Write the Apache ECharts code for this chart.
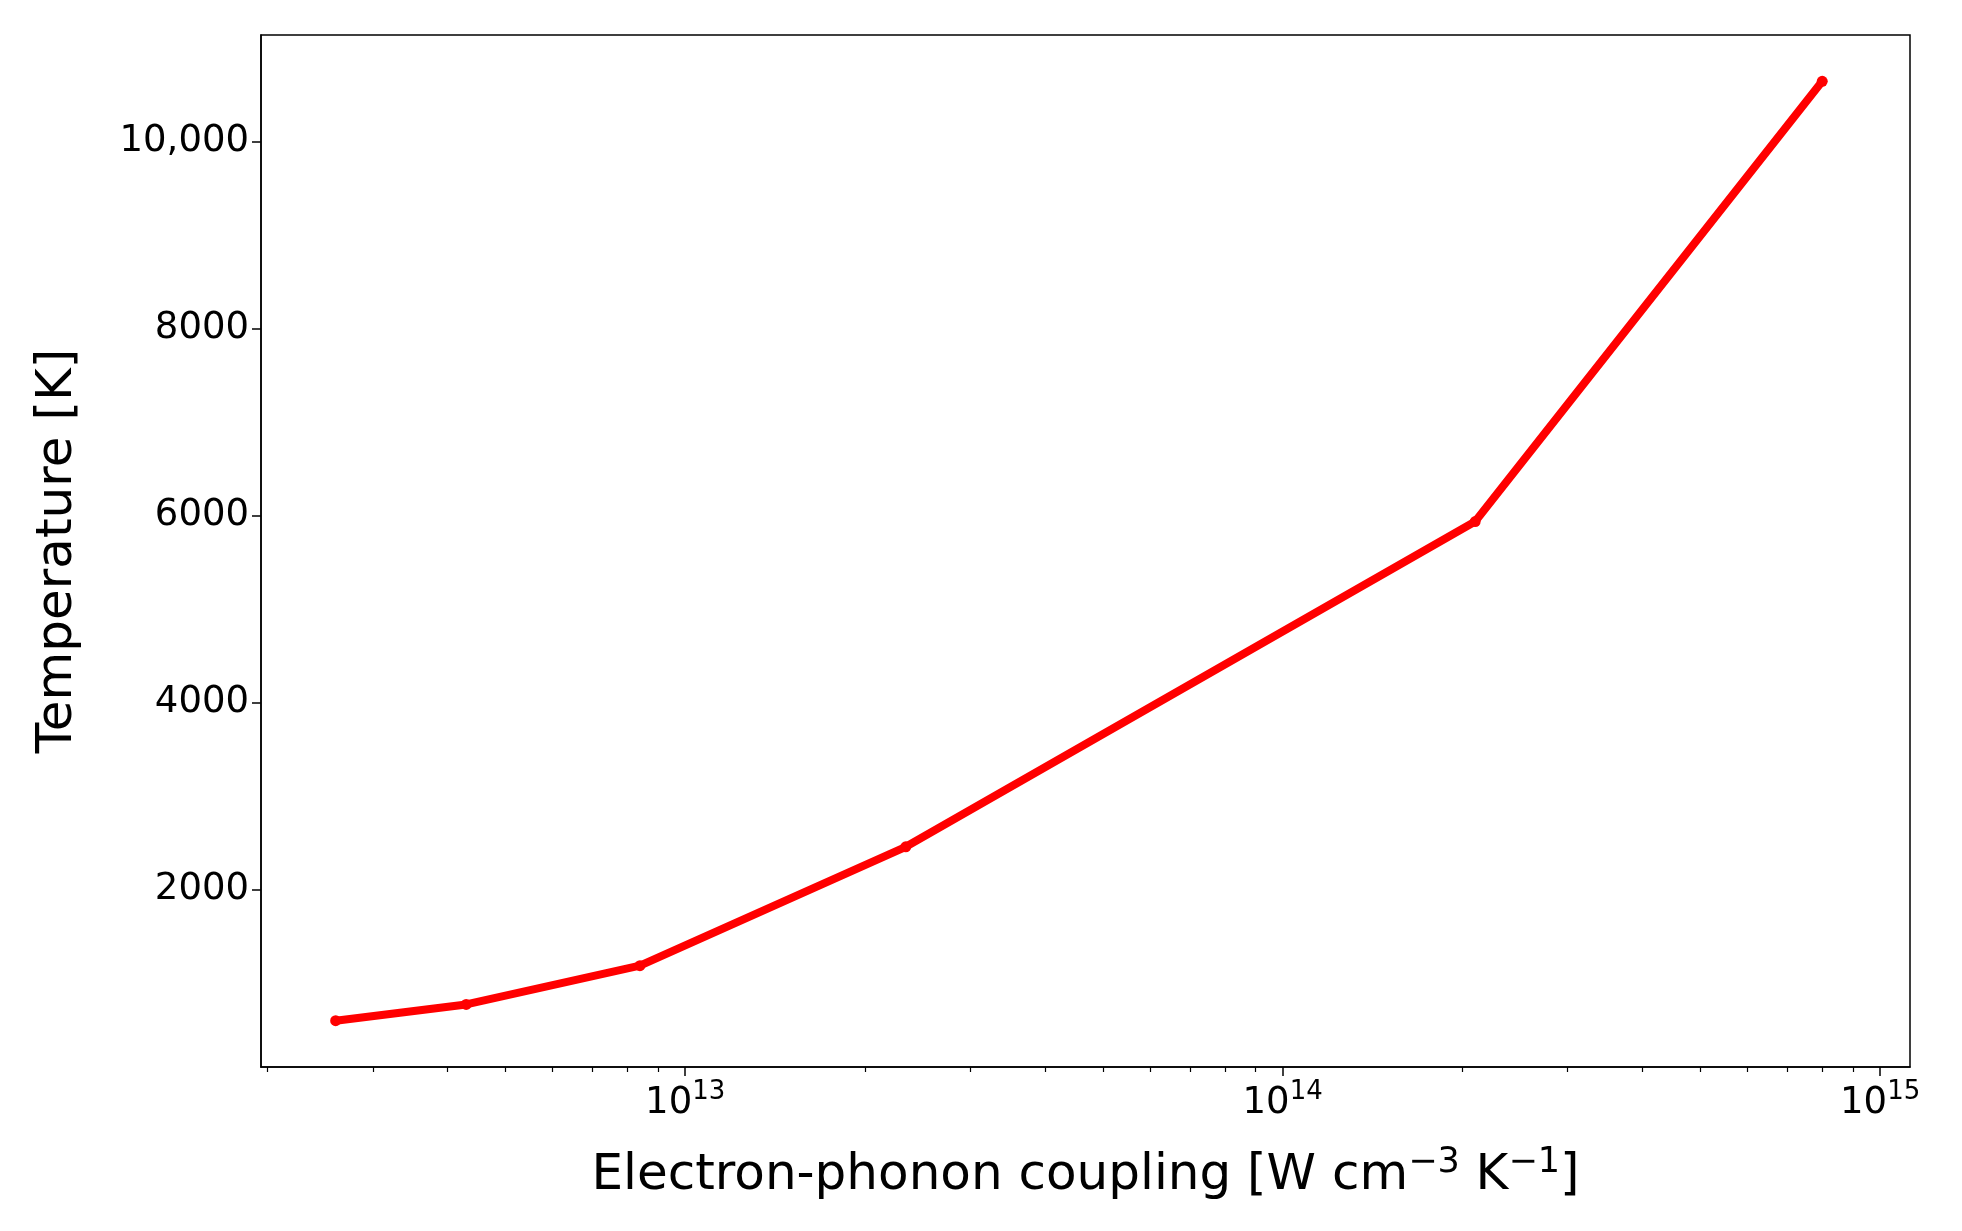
<!DOCTYPE html>
<html>
<head>
<meta charset="utf-8">
<script src="https://cdn.jsdelivr.net/npm/echarts@6/dist/echarts.min.js"></script>
</head>
<body style="margin:0;background:#fff">
<div id="chart" style="width:1962px;height:1231px;"></div>
<script>
// Data
var coupling = [2.6e12, 4.3e12, 8.4e12, 2.34e13, 2.1e14, 8.0e14];
var temperature = [595, 769, 1184, 2455, 5933, 10642];
var xMajor = [13, 14, 15];
var yTicks = [2000, 4000, 6000, 8000, 10000];

var xMinor = [];
[12, 13, 14].forEach(function (e) {
  for (var k = 2; k <= 9; k++) xMinor.push(e + Math.log10(k));
});

var font = 'DejaVu Sans';
var chart = echarts.init(document.getElementById('chart'));
chart.setOption({
  animation: false,
  grid: { left: 261, top: 35, width: 1649, height: 1032, show: true, borderColor: '#000', borderWidth: 1.5 },
  xAxis: [{
    type: 'value', min: 12.29, max: 15.05,
    axisLine: { show: true, lineStyle: { color: '#000', width: 1.5 } },
    splitLine: { show: false },
    axisTick: { show: true, customValues: xMajor, length: 9, lineStyle: { color: '#000', width: 1.5 } },
    axisLabel: {
      customValues: xMajor, margin: 12,
      formatter: function (v) { return '{b|10}{s|' + v + '}'; },
      rich: {
        b: { fontSize: 37, fontFamily: font, color: '#000' },
        s: { fontSize: 26, fontFamily: font, color: '#000', padding: [0, 0, 22, 0] }
      }
    },
    name: '{t|Electron-phonon coupling [W cm}{s|\u22123}{t| K}{s|\u22121}{t|]}',
    nameLocation: 'middle', nameGap: 78,
    nameTextStyle: {
      rich: {
        t: { fontSize: 50, fontFamily: font, color: '#000' },
        s: { fontSize: 35, fontFamily: font, color: '#000', padding: [0, 0, 28, 0] }
      }
    }
  }, {
    type: 'value', min: 12.29, max: 15.05, position: 'bottom',
    axisLine: { show: false }, splitLine: { show: false }, axisLabel: { show: false },
    axisTick: { show: true, customValues: xMinor, length: 5, lineStyle: { color: '#000', width: 1.2 } }
  }],
  yAxis: {
    type: 'value', min: 100, max: 11137,
    axisLine: { show: true, lineStyle: { color: '#000', width: 1.5 } },
    splitLine: { show: false },
    axisTick: { show: true, customValues: yTicks, length: 9, lineStyle: { color: '#000', width: 1.5 } },
    axisLabel: {
      customValues: yTicks, margin: 12, fontSize: 37, fontFamily: font, color: '#000',
      formatter: function (v) { return v === 10000 ? '10,000' : String(v); }
    },
    name: 'Temperature [K]', nameLocation: 'middle', nameGap: 178,
    nameTextStyle: { fontSize: 50, fontFamily: font, color: '#000' }
  },
  series: [{
    type: 'line',
    data: coupling.map(function (c, i) { return [Math.log10(c), temperature[i]]; }),
    symbol: 'circle', symbolSize: 11,
    lineStyle: { color: '#ff0000', width: 8 },
    itemStyle: { color: '#ff0000' }
  }]
});
</script>
</body>
</html>
